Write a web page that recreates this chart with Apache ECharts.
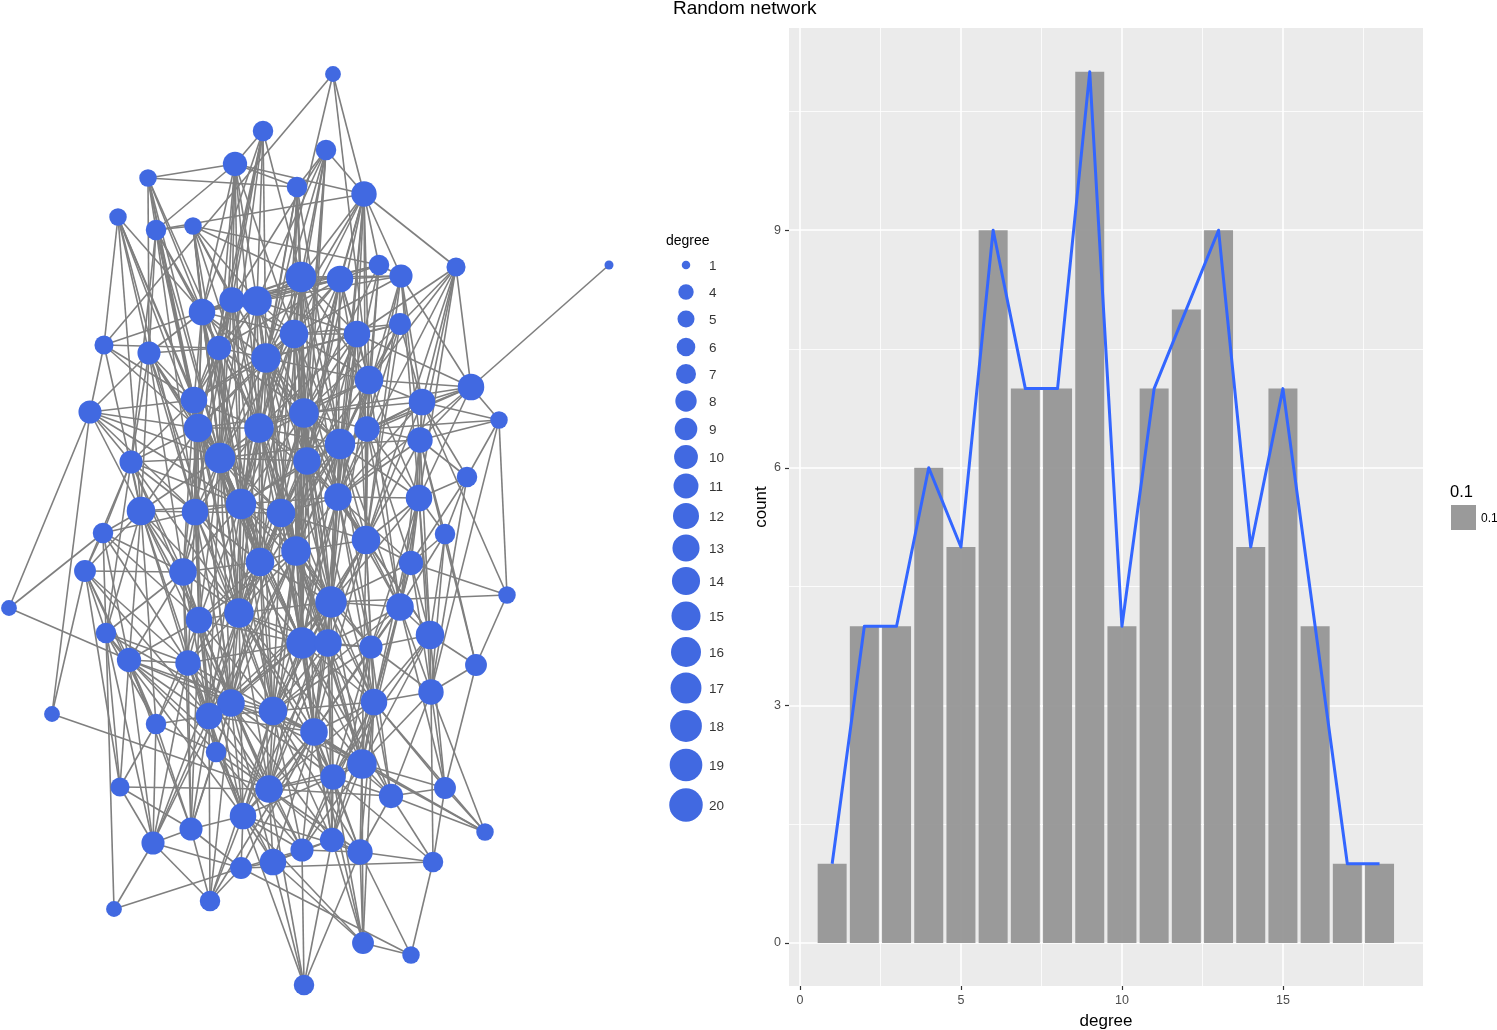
<!DOCTYPE html>
<html><head><meta charset="utf-8"><title>Random network</title>
<script src="https://cdn.jsdelivr.net/npm/echarts@6/dist/echarts.min.js"></script>
<style>html,body{margin:0;padding:0;background:#fff}#c{width:1497px;height:1030px}</style></head>
<body><div id="c"></div>
<script>
// ---- histogram
const degreeBins=[1,2,3,4,5,6,7,8,9,10,11,12,13,14,15,16,17,18];
const degreeCounts=[1,4,4,6,5,9,7,7,11,4,7,8,9,5,7,4,1,1];
const xMajor=[0,5,10,15];
const xMinor=[2.5,7.5,12.5,17.5];
const yMajor=[0,3,6,9];
const yMinor=[1.5,4.5,7.5,10.5];
// ---- size legend
const legendDegrees=[1,4,5,6,7,8,9,10,11,12,13,14,15,16,17,18,19,20];
const legendRows=[265,292,319,347,374,401,429,457,486,516,548,581,616,652,688,726,765,805];
// ---- network (layout)
const nodeX=[333,263,326,235,148,297,364,118,156,193,456,379,401,301,340,609,232,257,202,400,294,357,104,219,149,266,369,471,194,422,90,304,499,198,259,367,420,340,220,307,131,467,338,419,141,195,241,281,103,445,366,296,260,411,183,85,507,9,331,400,239,199,430,106,302,328,371,129,188,476,431,374,231,273,209,52,156,314,216,362,333,120,269,445,391,243,485,191,153,332,302,360,273,241,433,210,114,363,411,304];
const nodeY=[74,131,150,164,178,187,194,217,230,226,267,265,276,277,279,265,300,301,312,324,334,334,345,348,353,358,380,387,400,402,412,413,420,428,428,429,440,444,458,461,462,477,497,498,511,512,504,513,533,534,540,551,562,563,572,571,595,608,602,607,613,620,635,633,643,643,647,660,663,665,692,702,703,711,716,714,724,732,752,764,777,787,789,788,796,816,832,829,843,840,850,852,862,868,862,901,909,943,955,985];
const nodeDegree=[4,7,7,10,5,7,11,5,7,5,6,7,9,16,12,1,11,15,12,8,14,12,6,10,9,15,14,12,12,12,9,15,5,14,15,11,11,16,16,13,9,7,13,12,14,12,16,14,7,7,14,15,14,10,13,8,5,4,17,13,15,12,14,7,17,13,9,10,11,8,11,12,13,14,12,4,7,13,7,15,11,6,13,8,10,12,5,9,9,10,9,11,12,8,7,7,4,8,5,7];
const neighbours={
1:[7,23,26,27],2:[4,14,17,18,19,24,26,34,39],3:[6,7,14,17,18,21,26,32,40,52],4:[5,6,7,9,17,18,19,21,24,35,39,47],
5:[6,9,19,25,29,35,34,39],6:[14,21,26,32,38,40,47,48],7:[9,11,12,13,14,15,21,22,26,27,32,38,40,43,51],8:[23,19,25,34,45,39,46,29],
9:[10,19,24,25,29,34,46,41,39],10:[12,14,17,18,19,26,35,39,47,61],11:[20,22,27,28,30,37,43,44,51],12:[13,15,17,19,27,32,36,38],
13:[14,15,18,21,28,30,36,37,44,43,51],14:[15,17,18,19,21,22,26,27,32,35,38,40,43,48,52,47,59,65],15:[17,18,19,21,22,24,26,27,32,36,40,47,43,52,59],
16:[28],17:[18,19,21,24,29,34,35,39,47,53,46,52],18:[19,21,22,24,26,29,32,35,39,40,47,48,52,61],19:[21,23,24,25,26,29,34,35,38,39,47,46,53,61],
20:[21,22,26,27,30,32,36,38,51],21:[22,26,27,29,32,34,35,38,39,40,43,47,52,59,53,61,65],22:[26,27,28,32,35,38,40,43,51,48,52,59],
23:[24,29,31,34,45],24:[25,26,29,32,34,35,39,46,47,53,61],25:[29,31,34,39,41,45,46,55,47,61],26:[27,29,32,34,35,38,39,40,43,47,48,52,59,53,61,65],
27:[28,30,32,35,36,38,40,43,44,51,52,59,60],28:[30,33,36,37,38,32,43,44],29:[31,34,35,39,41,46,47,55,61,62,53,65,73],
30:[32,33,36,37,38,42,43,44,51,57],31:[34,39,41,58,76,45,46,47],32:[34,35,36,38,39,40,43,47,48,51,52,59,53,61,65,66],33:[36,37,42,57,71],
34:[35,39,41,45,46,47,53,55,62,61,48,65,73],35:[38,39,40,43,46,47,48,52,53,59,61,65,66,74],36:[37,38,43,44,51,54,60],
37:[38,42,43,44,50,51,54,60,63,70],38:[39,40,43,44,47,48,51,52,59,60,66,67,53,61,65],39:[40,41,45,46,47,48,52,53,55,61,62,65,73,74,75],
40:[43,47,48,51,52,53,59,61,65,66,72,74,78],41:[45,46,49,55,56,62,64,61,47],42:[44,50,54,71],43:[44,47,48,51,52,54,59,60,63,66,67,65,72,74,78],
44:[50,51,54,59,60,63,67,71,72],45:[46,47,49,55,56,62,64,68,69,73,61,75,77],46:[47,48,53,55,61,62,69,73,65,74,75],47:[48,52,53,55,59,61,62,65,66,74,73,75,78],
48:[51,52,53,59,61,65,66,74,78,72,73,80],49:[55,56,58,62,64,68,46,69],50:[54,60,63,70,71],51:[52,54,59,60,63,65,66,67,72,80,74,78],
52:[53,59,61,62,65,66,67,74,78,73,75,80,83],53:[55,59,61,62,65,69,73,74,75,78,83],54:[59,60,63,67,71,72],55:[61,62,64,68,69,73,75,88],
56:[64,68,76,82,77,55,69,75],57:[59,54,70],58:[68],59:[60,61,65,66,67,72,74,78,80,73,75,83,81],60:[63,66,67,71,72,80,84,78,74],
61:[62,65,66,69,73,74,75,78,83,86,81,80],62:[65,68,69,73,75,77,79,74,83,86,88],63:[67,70,71,72,80,84,81],64:[68,82,97,77,89,69,73,86],
65:[66,67,69,72,73,74,78,80,83,86,75,81,85,90],66:[67,72,74,78,80,81,83,85,90,86],67:[71,72,78,80,85,74,81,90],68:[69,75,77,82,88,89,79,73,74,83],
69:[73,75,77,79,86,88,74,83,89],70:[71,84],71:[72,80,84,85,87,95],72:[74,78,80,81,84,85,87,90,98,83,91,92],73:[74,75,78,79,83,86,88,93,90,91,80,81,96],
74:[75,78,80,81,83,86,90,91,87,92,96],75:[77,79,83,86,88,89,96,78],76:[83],77:[79,82,88,89],78:[80,81,83,85,90,91,92,86,93,94,96,98],
79:[83,86,88,93,91],80:[81,83,84,85,87,90,92,98,86,91],81:[83,85,90,91,92,98,95],82:[83,88,89],83:[85,86,90,91,92,93,100],
84:[85,87,95],85:[87,92,95],86:[88,91,92,93,94,96,98,100],88:[89,94,96],89:[94,96,97,61,52],90:[91,92,93,100,98],
91:[92,93,94,100],92:[95,98,99,100],93:[94,98,100],94:[95,96,97,99],95:[99],98:[99]
};

const BLUE='#4169E1';
const sizeOf=d=>Math.sqrt(24.4+56.6*d);
const graphNodes=nodeX.map((x,i)=>({name:'n'+(i+1),value:[x,nodeY[i]],symbolSize:sizeOf(nodeDegree[i])}));
const graphLinks=[];
Object.keys(neighbours).forEach(a=>neighbours[a].forEach(b=>graphLinks.push({source:+a-1,target:b-1})));
const gridMark=(axis,vals,w)=>vals.map(v=>({[axis]:v,lineStyle:{color:'#fff',width:w,type:'solid',opacity:1}}));
const font='"Liberation Sans",Arial,sans-serif';

const chart=echarts.init(document.getElementById('c'),null,{renderer:'canvas'});
chart.setOption({
  animation:false,
  backgroundColor:'#fff',
  textStyle:{fontFamily:font},
  grid:[
    {left:0,top:0,width:1497,height:1030,show:false,outerBoundsMode:'none'},
    {left:789,top:28,width:634,height:958,show:true,backgroundColor:'#ebebeb',borderWidth:0,outerBoundsMode:'none'}
  ],
  xAxis:[
    {gridIndex:0,type:'value',min:0,max:1497,show:false},
    {gridIndex:1,type:'value',min:-0.34,max:19.35,
     name:'degree',nameLocation:'middle',nameGap:27,nameTextStyle:{fontSize:17,color:'#000',fontFamily:font},
     axisLine:{show:false,onZero:false},splitLine:{show:false},
     axisTick:{show:true,length:4,customValues:xMajor,lineStyle:{color:'#333',width:1.2}},
     axisLabel:{customValues:xMajor,color:'#4d4d4d',fontSize:12.5,margin:8,fontFamily:font}}
  ],
  yAxis:[
    {gridIndex:0,type:'value',min:0,max:1030,inverse:true,show:false},
    {gridIndex:1,type:'value',min:-0.543,max:11.553,
     name:'count',nameLocation:'middle',nameGap:19,nameRotate:90,nameTextStyle:{fontSize:17,color:'#000',fontFamily:font},
     axisLine:{show:false,onZero:false},splitLine:{show:false},
     axisTick:{show:true,length:4,customValues:yMajor,lineStyle:{color:'#333',width:1.2}},
     axisLabel:{customValues:yMajor,color:'#4d4d4d',fontSize:12.5,margin:8,fontFamily:font}}
  ],
  series:[
    {type:'graph',coordinateSystem:'cartesian2d',xAxisIndex:0,yAxisIndex:0,layout:'none',silent:true,z:2,
     data:graphNodes,links:graphLinks,
     itemStyle:{color:BLUE},lineStyle:{color:'#7f7f7f',width:1.6,opacity:1,curveness:0},label:{show:false},edgeSymbol:['none','none']},
    {type:'scatter',xAxisIndex:0,yAxisIndex:0,silent:true,z:2,
     data:legendDegrees.map((d,i)=>[686,legendRows[i]]),
     symbolSize:(v,p)=>sizeOf(legendDegrees[p.dataIndex])-0.5,itemStyle:{color:BLUE,opacity:1}},
    {type:'scatter',xAxisIndex:0,yAxisIndex:0,silent:true,z:2,symbolSize:0,
     data:legendDegrees.map((d,i)=>[709,legendRows[i]+1]),
     label:{show:true,position:'inside',align:'left',verticalAlign:'middle',color:'#000',fontSize:13.5,fontFamily:font,
       formatter:p=>String(legendDegrees[p.dataIndex])}},
    {type:'line',xAxisIndex:1,yAxisIndex:1,data:[],silent:true,z:1,symbol:'none',
     markLine:{silent:true,symbol:'none',label:{show:false},animation:false,z:1,
       data:[...gridMark('xAxis',xMinor,0.8),...gridMark('yAxis',yMinor,0.8),...gridMark('xAxis',xMajor,1.6),...gridMark('yAxis',yMajor,1.6)]}},
    {type:'bar',xAxisIndex:1,yAxisIndex:1,silent:true,z:3,barWidth:29,
     data:degreeBins.map((b,i)=>[b,degreeCounts[i]]),itemStyle:{color:'rgba(150,150,150,0.95)'}},
    {type:'line',xAxisIndex:1,yAxisIndex:1,silent:true,z:4,symbol:'none',
     data:degreeBins.map((b,i)=>[b,degreeCounts[i]]),lineStyle:{color:'#3366FF',width:3,join:'round'}}
  ],
  graphic:[
    {type:'text',left:673,top:-1,z:10,style:{text:'Random network',fontSize:19,fill:'#000',fontFamily:font}},
    {type:'text',left:666,top:234,z:10,style:{text:'degree',fontSize:14,fill:'#000',fontFamily:font}},
    {type:'text',left:1450,top:484,z:10,style:{text:'0.1',fontSize:16.5,fill:'#000',fontFamily:font}},
    {type:'rect',left:1451,top:505,z:10,shape:{width:25,height:25},style:{fill:'#9a9a9a'}},
    {type:'text',left:1481,top:513,z:10,style:{text:'0.1',fontSize:12,fill:'#000',fontFamily:font}}
  ]
});
</script></body></html>
